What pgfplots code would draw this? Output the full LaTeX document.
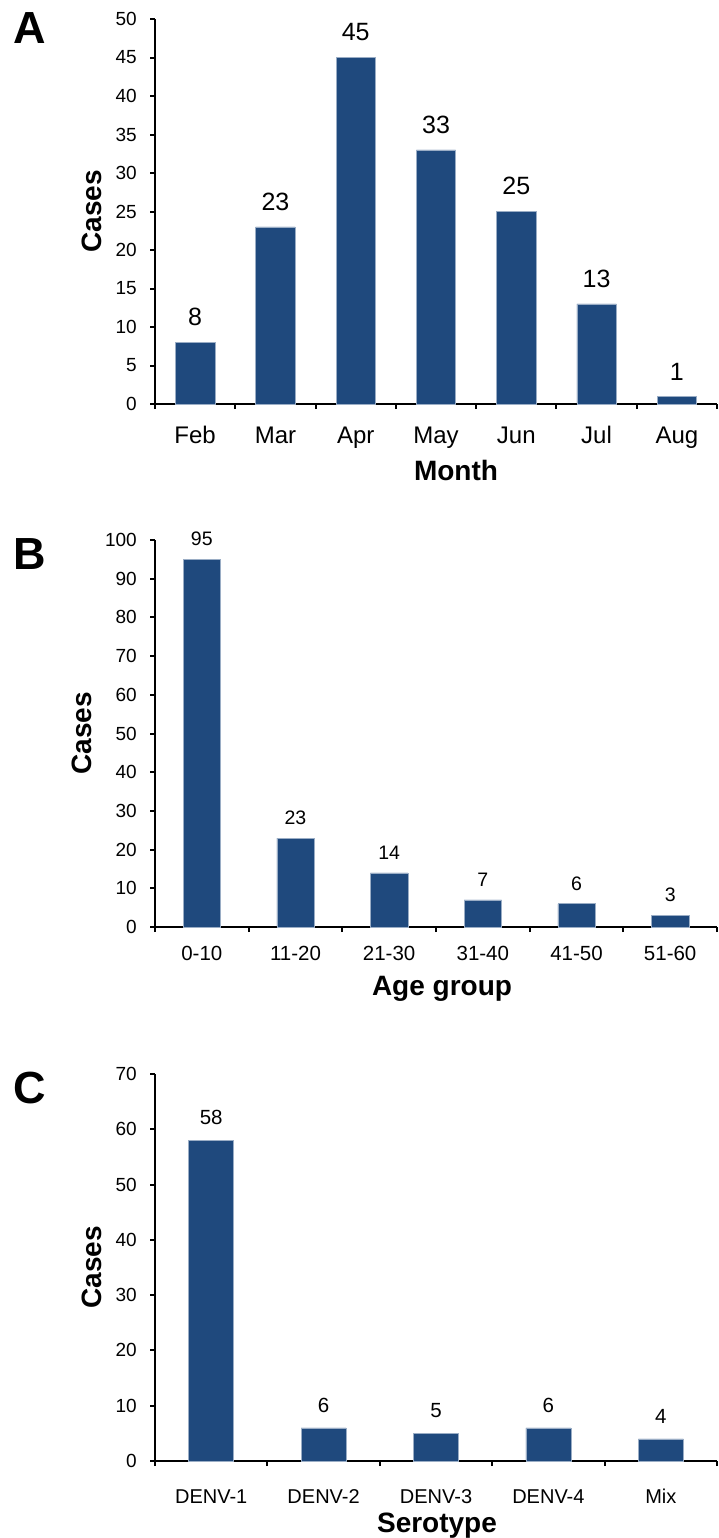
\documentclass[border=0pt]{standalone}
\usepackage{fontspec}
\setmainfont{Liberation Sans}
\usepackage{pgfplots}
\pgfplotsset{compat=1.18}
\definecolor{barblue}{RGB}{31,73,125}
\newcommand{\fs}[1]{\fontsize{#1}{#1}\selectfont}
\pgfplotsset{
  panel/.style={
    scale only axis,
    width=562pt,
    axis x line*=bottom, axis y line*=left,
    axis line style={line width=2.2pt, black},
    every tick/.style={black, line width=2pt},
    tick align=outside,
    major tick length=5pt,
    x tick label as interval,
    ybar,
    ymin=0,
    clip=false,
    /pgf/number format/assume math mode=true,
    nodes near coords,
    every node near coord/.append style={anchor=south, inner sep=0pt, black},
    yticklabel style={anchor=east, inner sep=0pt, font=\fs{19}},
    xticklabel style={anchor=base, inner sep=0pt},
    xlabel style={anchor=north, inner sep=0pt, font=\bfseries\fs{28}},
    ylabel style={anchor=center, inner sep=0pt, font=\bfseries\fs{28}},
  }
}
\begin{document}
\begin{tikzpicture}
\useasboundingbox (0,0) rectangle (718pt,-1538pt);
% Panel A
\node[font=\bfseries\fs{45}, inner sep=0pt] at (30pt,-28pt) {A};
\begin{axis}[panel, at={(155pt,-404pt)}, anchor=south west,
  height=385pt, xmin=-0.5, xmax=6.5, ymax=50,
  ytick={0,5,10,15,20,25,30,35,40,45,50},
  yticklabel style={xshift=-13pt},
  xtick={-0.5,0.5,1.5,2.5,3.5,4.5,5.5,6.5},
  xticklabels={Feb,Mar,Apr,May,Jun,Jul,Aug},
  xticklabel style={font=\fs{24}, yshift=-34pt},
  every node near coord/.append style={font=\fs{25}, yshift=16pt},
  xlabel={Month}, ylabel={Cases},
  xlabel style={at={([xshift=20pt,yshift=-56pt]axis description cs:0.5,0)}},
  ylabel style={at={([xshift=-63.5pt]axis description cs:0,0.5)}},
]
\addplot[fill=barblue, draw=barblue!45!white, line width=0.6pt, bar width=39.4pt]
  coordinates {(0,8) (1,23) (2,45) (3,33) (4,25) (5,13) (6,1)};
\end{axis}
% Panel B
\node[font=\bfseries\fs{45}, inner sep=0pt] at (30pt,-554pt) {B};
\begin{axis}[panel, at={(155pt,-927pt)}, anchor=south west,
  height=387pt, xmin=-0.5, xmax=5.5, ymax=100,
  ytick={0,10,20,30,40,50,60,70,80,90,100},
  yticklabel style={xshift=-13pt},
  xtick={-0.5,0.5,1.5,2.5,3.5,4.5,5.5},
  xticklabels={0-10,11-20,21-30,31-40,41-50,51-60},
  xticklabel style={font=\fs{20.5}, yshift=-28pt},
  every node near coord/.append style={font=\fs{19.5}, yshift=13pt},
  xlabel={Age group}, ylabel={Cases},
  xlabel style={at={([xshift=6pt,yshift=-49pt]axis description cs:0.5,0)}},
  ylabel style={at={([xshift=-73pt]axis description cs:0,0.5)}},
]
\addplot[fill=barblue, draw=barblue!45!white, line width=0.6pt, bar width=37.4pt]
  coordinates {(0,95) (1,23) (2,14) (3,7) (4,6) (5,3)};
\end{axis}
% Panel C
\node[font=\bfseries\fs{45}, inner sep=0pt] at (30pt,-1088pt) {C};
\begin{axis}[panel, at={(155pt,-1461pt)}, anchor=south west,
  height=387pt, xmin=-0.5, xmax=4.5, ymax=70,
  ytick={0,10,20,30,40,50,60,70},
  yticklabel style={xshift=-13pt},
  xtick={-0.5,0.5,1.5,2.5,3.5,4.5},
  xticklabels={DENV-1,DENV-2,DENV-3,DENV-4,Mix},
  xticklabel style={font=\fs{20}, yshift=-37pt},
  every node near coord/.append style={font=\fs{20.5}, yshift=15pt},
  xlabel={Serotype}, ylabel={Cases},
  xlabel style={at={([xshift=1pt,yshift=-52pt]axis description cs:0.5,0)}},
  ylabel style={at={([xshift=-63pt]axis description cs:0,0.5)}},
]
\addplot[fill=barblue, draw=barblue!45!white, line width=0.6pt, bar width=45pt]
  coordinates {(0,58) (1,6) (2,5) (3,6) (4,4)};
\end{axis}
\end{tikzpicture}
\end{document}
